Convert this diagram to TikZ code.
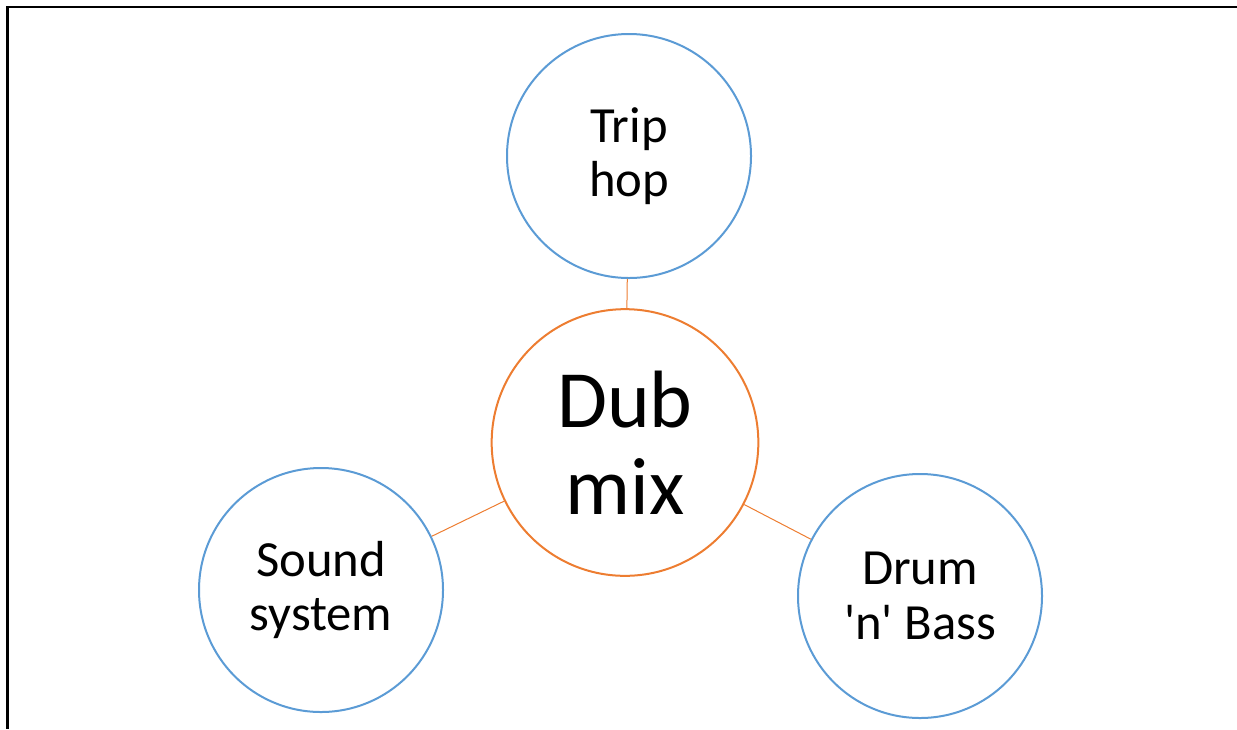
\documentclass[tikz,border=0pt]{standalone}
\usepackage{fontspec}
\setmainfont{Carlito}
\definecolor{ringblue}{HTML}{5B9BD5}
\definecolor{hubora}{HTML}{ED7D31}
\tikzset{
  leaf/.style={circle, draw=ringblue, line width=1.5pt, minimum size=183pt,
    inner sep=0pt, align=center, font=\fontsize{38}{41}\selectfont},
  hub/.style={circle, draw=hubora, line width=1.5pt, minimum size=200pt,
    inner sep=0pt, align=center, font=\fontsize{61}{65.5}\selectfont},
  spoke/.style={draw=hubora, line width=0.75pt},
  frameline/.style={draw=black, line width=1.6pt}
}
\begin{document}
\begin{tikzpicture}[x=0.75pt, y=-0.75pt]
  \useasboundingbox (0,0) rectangle (1237,729);
  % frame edges along the top and left
  \coordinate (ftl) at (7.5,7);
  \coordinate (ftr) at (1237,7);
  \coordinate (fbl) at (7.5,729);
  \draw[frameline] (ftr) -- (ftl) -- (fbl);
  % central topic and its three branches
  \node[hub]  (dub)   at (625,442.5) {Dub\\mix};
  \node[leaf] (trip)  at (629,156) {Trip\\hop};
  \node[leaf] (sound) at (321,590) {Sound\\system};
  \node[leaf] (drum)  at (920,596) {Drum\\\textquotesingle n\textquotesingle{} Bass};
  \draw[spoke] (dub) -- (trip);
  \draw[spoke] (dub) -- (sound);
  \draw[spoke] (dub) -- (drum);
\end{tikzpicture}
\end{document}
